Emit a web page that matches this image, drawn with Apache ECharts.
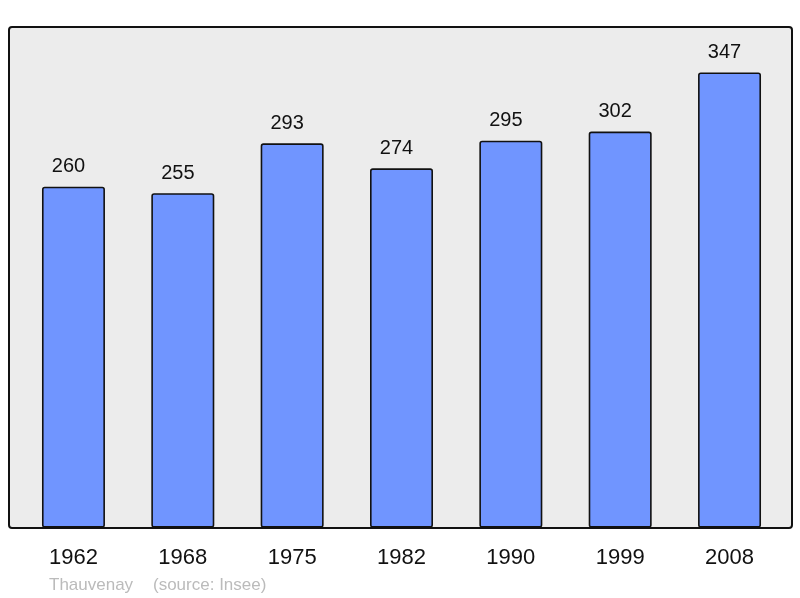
<!DOCTYPE html>
<html><head><meta charset="utf-8">
<script src="https://cdn.jsdelivr.net/npm/echarts@6/dist/echarts.min.js"></script>
<style>html,body{margin:0;padding:0;background:#fff}#c{width:800px;height:598px}</style>
</head><body><div id="c"></div>
<script>
var years = ['1962','1968','1975','1982','1990','1999','2008'];
var population = [260,255,293,274,295,302,347];
var place = 'Thauvenay';
var source = '(source: Insee)';

var chart = echarts.init(document.getElementById('c'), null, {renderer:'canvas'});
chart.setOption({
  animation:false,
  backgroundColor:'#ffffff',
  graphic:[
    {type:'rect', z:-10, shape:{x:9,y:27,width:783,height:501,r:3},
     style:{fill:'#ececec',stroke:'#111111',lineWidth:2}},
    {type:'text', left:49, top:577, style:{text:place, fill:'#bbbbbb', font:'17px "Liberation Sans", Arial, sans-serif'}},
    {type:'text', left:153, top:577, style:{text:source, fill:'#bbbbbb', font:'17px "Liberation Sans", Arial, sans-serif'}}
  ],
  grid:{left:18.8, right:15.8, top:27, bottom:70.3, containLabel:false},
  xAxis:{type:'category', data:years,
    axisLine:{show:false}, axisTick:{show:false},
    axisLabel:{fontSize:22, color:'#111', margin:19, fontFamily:'"Liberation Sans", Arial, sans-serif'}},
  yAxis:{type:'value', min:0, max:347*1.1, show:false, splitLine:{show:false}},
  series:[{type:'bar', data:population, barWidth:'57.6%',
    itemStyle:{color:'#7095ff', borderColor:'#111', borderWidth:1.6, borderRadius:2},
    label:{show:true, position:'top', distance:10, offset:[-5,0], fontSize:20, color:'#111',
      fontFamily:'"Liberation Sans", Arial, sans-serif'}
  }]
});
</script></body></html>
